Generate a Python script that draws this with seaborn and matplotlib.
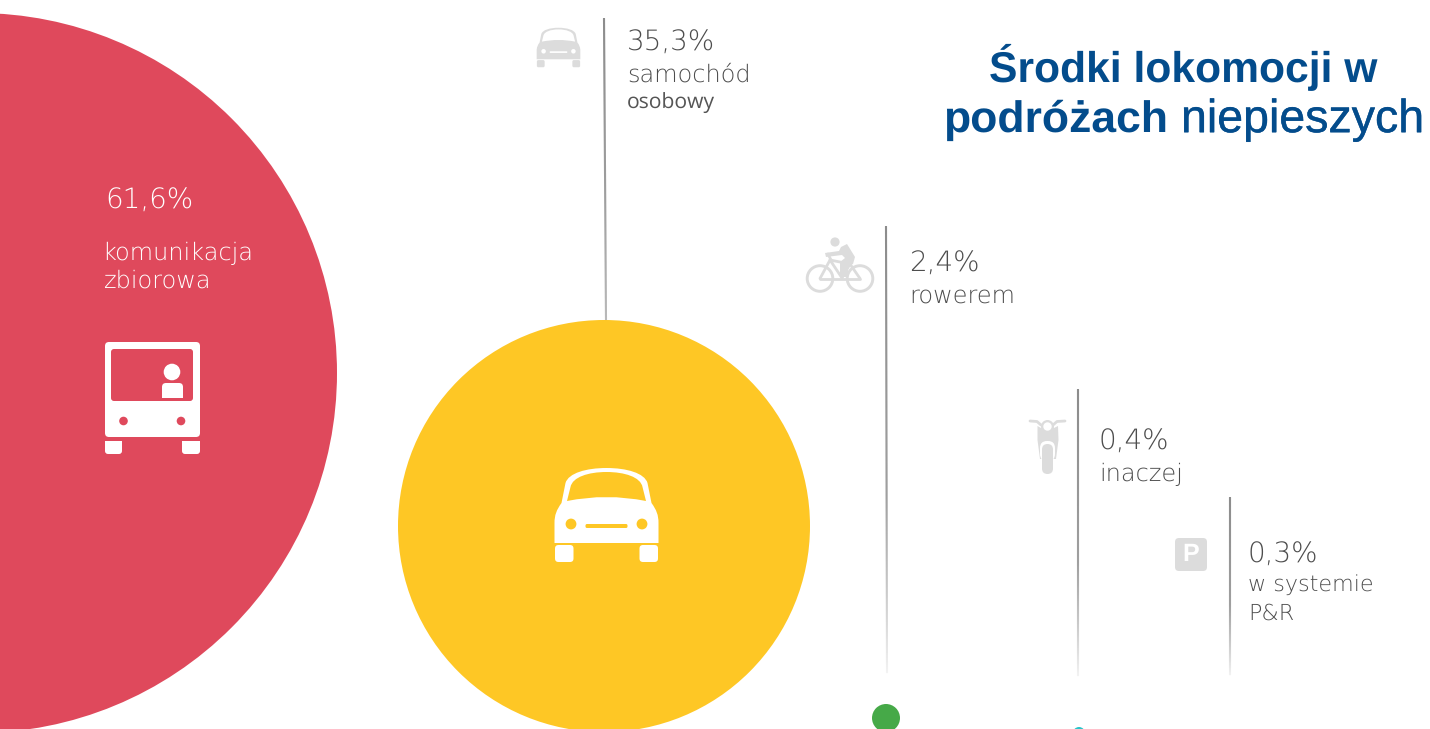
import numpy as np
import pandas as pd
import seaborn as sns
import matplotlib.pyplot as plt
import matplotlib.patheffects as pe
from matplotlib.patches import Circle, FancyBboxPatch, PathPatch, Polygon
from matplotlib.path import Path

# values
shares = ['61,6%', '35,3%', '2,4%', '0,4%', '0,3%']
modes = ['komunikacja\nzbiorowa', 'samochód', 'rowerem', 'inaczej', 'w systemie\nP&R']
bubble_x = [-23, 604, 886, 1079, 1230]
bubble_y = [373, 526, 718, 733, 740]
bubble_r = [360, 206, 14, 6, 5]
bubble_colors = ['#DF495C', '#FEC725', '#46A948', '#27C4C9', '#FFFFFF']

title_color = '#034C8C'
text_color = '#4D4D4D'
icon_grey = '#DCDCDC'

W, H = 1430, 729
DPI = 100


def box(ax, x0, y0, x1, y1, color, r=3, z=5):
    ax.add_patch(FancyBboxPatch((x0 + r, y0 + r), x1 - x0 - 2 * r, y1 - y0 - 2 * r,
                                boxstyle=f'round,pad={r},rounding_size={r}',
                                fc=color, ec='none', zorder=z))


def draw_car(ax, cx, cy, k, color, cut):
    # outline taken in px around the car centre, k scales it
    def p(pts):
        return [(cx + a * k, cy + b * k) for a, b in pts]
    body = [(Path.MOVETO, (-45, -12)), (Path.LINETO, (-41, -32)),
            (Path.CURVE4, (-38, -42)), (Path.CURVE4, (-20, -47)), (Path.CURVE4, (0, -47)),
            (Path.CURVE4, (20, -47)), (Path.CURVE4, (38, -42)), (Path.CURVE4, (41, -32)),
            (Path.LINETO, (45, -12)), (Path.CURVE4, (50, -5)), (Path.CURVE4, (52, 0)), (Path.CURVE4, (52, 8)),
            (Path.LINETO, (52, 28)), (Path.LINETO, (-52, 28)), (Path.LINETO, (-52, 8)),
            (Path.CURVE4, (-52, 0)), (Path.CURVE4, (-50, -5)), (Path.CURVE4, (-45, -12)),
            (Path.CLOSEPOLY, (-45, -12))]
    codes, pts = zip(*body)
    ax.add_patch(PathPatch(Path(p(pts), codes), fc=color, ec='none', zorder=5))
    glass = [(Path.MOVETO, (-39.5, -14)), (Path.LINETO, (-36, -28)),
             (Path.CURVE4, (-34, -38)), (Path.CURVE4, (-18, -43)), (Path.CURVE4, (0, -43)),
             (Path.CURVE4, (18, -43)), (Path.CURVE4, (34, -38)), (Path.CURVE4, (36, -28)),
             (Path.LINETO, (39.5, -14)), (Path.CURVE3, (0, -22)), (Path.CURVE3, (-39.5, -14)),
             (Path.CLOSEPOLY, (-39.5, -14))]
    codes, pts = zip(*glass)
    ax.add_patch(PathPatch(Path(p(pts), codes), fc=cut, ec='none', zorder=6))
    for s in (-1, 1):
        ax.add_patch(Circle((cx + s * 35.5 * k, cy + 9 * k), 5.4 * k, fc=cut, ec='none', zorder=6))
        a, b = sorted((s * 33, s * 51.5))
        box(ax, cx + a * k, cy + 30 * k, cx + b * k, cy + 47 * k, color, r=3.5 * k)
    box(ax, cx - 21 * k, cy + 9 * k, cx + 21 * k, cy + 13 * k, cut, r=1.5 * k, z=6)


def draw_bus(ax, color, cut):
    box(ax, 105, 342, 200, 437, color, r=4)
    box(ax, 111, 349, 193, 401, cut, r=3, z=6)
    ax.add_patch(Circle((172, 372), 8.3, fc=color, ec='none', zorder=7))
    box(ax, 162, 383, 183, 398, color, r=4, z=7)
    ax.add_patch(Polygon([(162, 390), (183, 390), (183, 398), (162, 398)], fc=color, ec='none', zorder=7))
    for x in (123.5, 181):
        ax.add_patch(Circle((x, 421), 4.3, fc=cut, ec='none', zorder=7))
    for x0, x1 in ((105, 122), (182, 200)):
        ax.add_patch(Polygon([(x0, 441), (x1, 441), (x1, 448), (x0, 448)], fc=color, ec='none', zorder=5))
        box(ax, x0, 441, x1, 454, color, r=3)


def draw_bike(ax, color):
    for x in (820, 860):
        ax.add_patch(Circle((x, 278.5), 12.8, fc='none', ec=color, lw=2.1, zorder=5))
    kw = dict(color=color, lw=2.0, solid_capstyle='round', zorder=5)
    ax.plot([820, 830, 850, 860], [278.5, 260, 264, 278.5], **kw)
    ax.plot([820, 848, 860], [278.5, 278.5, 278.5], **kw)
    ax.plot([830, 842, 850], [260, 278, 264], **kw)
    ax.plot([828, 832], [254, 262], **kw)
    ax.add_patch(Circle((835, 242), 4.6, fc=color, ec='none', zorder=6))
    ax.add_patch(Polygon([(825, 253), (839, 251), (841, 247), (847, 244), (855, 257), (853, 264),
                          (848, 266), (848, 277), (840, 277), (840, 262), (845, 258), (842, 255),
                          (826, 257)], fc=color, ec='none', zorder=6))


def draw_moto(ax, color):
    ax.plot([1030, 1037, 1041, 1053, 1057, 1065], [421, 421.5, 425, 425, 421.5, 421],
            color=color, lw=2.0, solid_capstyle='round', zorder=5)
    ax.add_patch(Polygon([(1037.5, 426), (1041, 428), (1054, 428), (1058, 426), (1058.5, 440), (1056, 459),
                          (1040, 459), (1037.5, 440)], fc=color, ec='none', zorder=5))
    ax.add_patch(Circle((1047.5, 426.5), 6.5, fc=color, ec='none', zorder=6))
    ax.add_patch(Circle((1047.5, 426.5), 4.2, fc='white', ec='none', zorder=7))
    box(ax, 1040, 441, 1055, 461, 'white', r=7, z=8)
    box(ax, 1042, 444, 1053, 474, color, r=5.5, z=9)


def fade_line(ax, x0, x1, y0, y1, color, end_alpha=0.0):
    # vertical rule that fades out towards the bottom
    ys = np.arange(y0, y1)
    xs = np.interp(ys, [y0, y1], [x0, x1])
    alpha = np.interp(ys, [y0, y0 + (y1 - y0) * 0.6, y1], [1, 0.8, end_alpha])
    for x, y, a in zip(xs, ys, alpha):
        ax.plot([x, x], [y, y + 1.2], color=color, alpha=a, lw=1.5, solid_capstyle='butt',
                snap=False, zorder=2)


sns.set_theme(style='white')
plt.rcParams['font.family'] = ['DejaVu Sans']
plt.rcParams['text.hinting'] = 'no_hinting'

fig, ax = plt.subplots(figsize=(W / DPI, H / DPI), dpi=DPI)
fig.subplots_adjust(0, 0, 1, 1)

bubbles = pd.DataFrame({'x': bubble_x, 'y': bubble_y, 'mode': modes, 'r': bubble_r})
sizes = (2 * bubbles['r'] * 72 / DPI) ** 2
sns.scatterplot(data=bubbles, x='x', y='y', hue='mode', palette=bubble_colors, s=sizes,
                linewidth=0, legend=False, ax=ax, zorder=3)

ax.set_xlim(0, W)
ax.set_ylim(H, 0)
ax.axis('off')

fade_line(ax, 604, 606, 18, 320, '#8C8C8C', end_alpha=0.55)
fade_line(ax, 886, 887, 226, 673, '#8C8C8C', end_alpha=0.08)
fade_line(ax, 1078, 1078, 389, 676, '#8C8C8C', end_alpha=0.08)
fade_line(ax, 1230, 1230, 497, 675, '#8C8C8C', end_alpha=0.08)

# big white icons on the bubbles
draw_bus(ax, 'white', bubble_colors[0])
draw_car(ax, 606.5, 515, 1.0, 'white', bubble_colors[1])

# grey icons next to the labels
draw_car(ax, 558.5, 47.5, 0.42, icon_grey, 'white')
draw_bike(ax, icon_grey)
draw_moto(ax, icon_grey)
box(ax, 1175, 538, 1207, 571, icon_grey, r=4)
ax.text(1191, 555, 'P', color='white', fontsize=18, fontweight='bold', ha='center', va='center',
        family='Liberation Sans', zorder=7)

# labels
thin = dict(fontweight=200, va='center')
big, small = 20, 17.3
ax.text(105, 201.5, shares[0], color='white', fontsize=big, **thin)
kom, zbi = modes[0].split('\n')
ax.text(102, 253, kom, color='white', fontsize=small, **thin)
ax.text(104, 281, zbi, color='white', fontsize=small, **thin)

ax.text(627, 43.5, shares[1], color=text_color, fontsize=big, **thin)
ax.text(627, 75, modes[1], color=text_color, fontsize=small, **thin)
ax.text(627, 103.5, 'osobowy', color='#555555', fontsize=15.2, va='center', family='Open Sans')

ax.text(909, 264.5, shares[2], color=text_color, fontsize=big, **thin)
ax.text(909, 296, modes[2], color=text_color, fontsize=small, **thin)

ax.text(1099, 442.5, shares[3], color=text_color, fontsize=big, **thin)
ax.text(1099, 474, modes[3], color=text_color, fontsize=small, **thin)

ax.text(1248, 555.5, shares[4], color=text_color, fontsize=big, **thin)
wsy, pr = modes[4].split('\n')
ax.text(1248, 585, wsy, color=text_color, fontsize=16, **thin)
ax.text(1248, 614, pr, color=text_color, fontsize=16, **thin)

# title
title_font = dict(color=title_color, family='Liberation Sans', va='center')
ax.text(1183.5, 67, 'Środki lokomocji w', ha='center', fontweight='bold', fontsize=30.7, **title_font)
ax.text(943, 120, 'podróżach', ha='left', fontweight='bold', fontsize=32, **title_font)
ax.text(1181, 120, 'niepieszych', ha='left', fontsize=33.5,
        path_effects=[pe.withStroke(linewidth=0.3, foreground=title_color)], **title_font)

fig.savefig('out.png', dpi=DPI)
